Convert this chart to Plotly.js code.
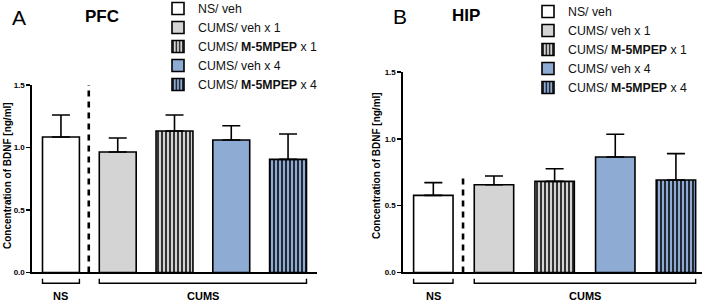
<!DOCTYPE html>
<html>
<head>
<meta charset="utf-8">
<script src="https://cdn.plot.ly/plotly-3.0.1.min.js"></script>
<style>html,body{margin:0;padding:0;background:#fff;}#chart{width:708px;height:302px;}</style>
</head>
<body>
<div id="chart"></div>
<script>
// ---- data ----
var groups = ['NS/ veh', 'CUMS/ veh x 1', 'CUMS/ <b>M-5MPEP</b> x 1', 'CUMS/ veh x 4', 'CUMS/ <b>M-5MPEP</b> x 4'];
var positions = [0, 1, 2, 3, 4];
var pfcMean = [1.084, 0.964, 1.132, 1.06, 0.905];
var pfcSem  = [0.176, 0.112, 0.128, 0.114, 0.203];
var hipMean = [0.577, 0.657, 0.682, 0.864, 0.692];
var hipSem  = [0.095, 0.065, 0.094, 0.170, 0.197];
var yTicks = [0, 0.5, 1.0, 1.5];
var yTickText = ['0.0', '0.5', '1.0', '1.5'];
var groupLabels = ['NS', 'CUMS'];

// ---- styles ----
var fills = ['#ffffff', '#d4d4d4', '#d4d4d4', '#8eabd3', '#8eabd3'];
var striped = [false, false, true, false, true];
var FONT = 'Liberation Sans, Arial, Helvetica, sans-serif';

var traces = [];
function addPanel(means, sems, xa, ya, legendId) {
  for (var i = 0; i < groups.length; i++) {
    traces.push({
      type: 'bar',
      x: [positions[i]],
      y: [means[i]],
      name: groups[i],
      xaxis: xa, yaxis: ya,
      legend: legendId,
      width: 0.65,
      marker: {
        color: fills[i],
        line: {color: '#000', width: 1.6},
        pattern: striped[i] ? {shape: '|', fgcolor: '#000', bgcolor: fills[i], size: 4, solidity: 0.38, fillmode: 'replace'} : {shape: ''}
      },
      error_y: {type: 'data', symmetric: false, array: [sems[i]], arrayminus: [0], color: '#000', thickness: 1.6, width: 9},
      hoverinfo: 'skip'
    });
  }
}
addPanel(pfcMean, pfcSem, 'x', 'y', 'legend');
addPanel(hipMean, hipSem, 'x2', 'y2', 'legend2');

var axCommon = {
  showline: true, linecolor: '#000', linewidth: 1.6, zeroline: false, showgrid: false
};
function yax(domain, anchor) {
  return Object.assign({}, axCommon, {
    domain: domain, anchor: anchor, range: [0, 1.5],
    tickvals: yTicks, ticktext: yTickText, ticks: 'outside', ticklen: 4, tickwidth: 1.4, tickcolor: '#000',
    tickfont: {family: FONT, size: 8, weight: 'bold', color: '#000'}
  });
}
function xax(domain, anchor, range) {
  return Object.assign({}, axCommon, {
    domain: domain, anchor: anchor, range: range, showticklabels: false, ticks: ''
  });
}

var shapes = [];
var annotations = [];
function panelDecor(xr, yr, dashTop) {
  // dashed separator
  shapes.push({type: 'line', xref: xr, yref: yr, x0: 0.49, x1: 0.49, y0: 0, y1: dashTop,
    line: {color: '#000', width: 2.6, dash: '6px,5px'}});
  // brackets
  shapes.push({type: 'path', xref: xr, yref: 'paper', path: 'M-0.325,0.077 V0.062 H0.325 V0.077', line: {color: '#000', width: 1.4}});
  shapes.push({type: 'path', xref: xr, yref: 'paper', path: 'M0.675,0.077 V0.062 H4.325 V0.077', line: {color: '#000', width: 1.4}});
  annotations.push({xref: xr, yref: 'paper', x: 0, y: 0.02, text: '<b>' + groupLabels[0] + '</b>', showarrow: false,
    font: {family: FONT, size: 11, color: '#000'}, xanchor: 'center', yanchor: 'middle'});
  annotations.push({xref: xr, yref: 'paper', x: 2.5, y: 0.02, text: '<b>' + groupLabels[1] + '</b>', showarrow: false,
    font: {family: FONT, size: 11, color: '#000'}, xanchor: 'center', yanchor: 'middle'});
}
panelDecor('x', 'y', 1.5);
panelDecor('x2', 'y2', 0.74);

function txt(x, y, t, size, bold, angle) {
  annotations.push({xref: 'paper', yref: 'paper', x: x / 708, y: 1 - y / 302, text: bold ? '<b>' + t + '</b>' : t,
    showarrow: false, xanchor: 'center', yanchor: 'middle', textangle: angle || 0,
    font: {family: FONT, size: size, color: '#000'}});
}
txt(18.5, 17.5, 'A', 21, false);
txt(102, 16, 'PFC', 17, true);
txt(399.5, 17, 'B', 21, false);
txt(466, 15, 'HIP', 17, true);
txt(7, 176, 'Concentration of BDNF [ng/ml]', 10, true, -90);
txt(376, 166, 'Concentration of BDNF [ng/ml]', 10, true, -90);

var legendCommon = {
  bgcolor: 'rgba(0,0,0,0)', borderwidth: 0, font: {family: FONT, size: 12.3, color: '#111'},
  xanchor: 'left', yanchor: 'top', traceorder: 'normal', itemclick: false, itemdoubleclick: false
};

var layout = {
  width: 708, height: 302,
  margin: {l: 0, r: 0, t: 0, b: 0, autoexpand: false},
  paper_bgcolor: '#fff', plot_bgcolor: 'rgba(0,0,0,0)',
  barmode: 'overlay',
  showlegend: true,
  font: {family: FONT, color: '#000'},
  xaxis: xax([32 / 708, 317 / 708], 'y', [-0.51, 4.51]),
  yaxis: yax([0.0977, 0.7185], 'x'),
  xaxis2: xax([403 / 708, 702 / 708], 'y2', [-0.5, 4.43]),
  yaxis2: yax([0.0977, 0.7616], 'x2'),
  legend: Object.assign({}, legendCommon, {x: 158 / 708, y: 1.02}),
  legend2: Object.assign({}, legendCommon, {x: 528 / 708, y: 1.01}),
  shapes: shapes,
  annotations: annotations
};

Plotly.newPlot('chart', traces, layout, {displayModeBar: false, staticPlot: true});
</script>
</body>
</html>
